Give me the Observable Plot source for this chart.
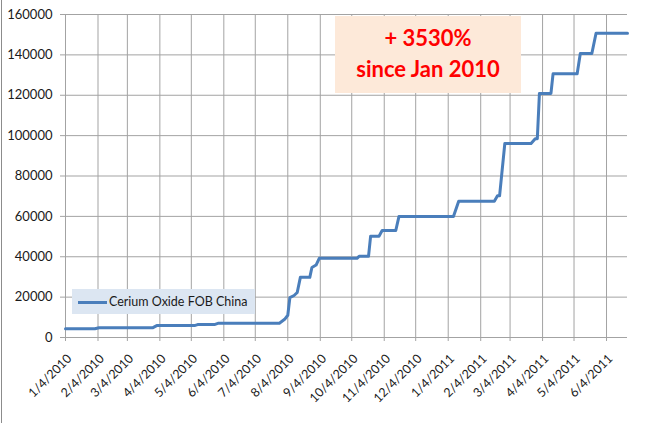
<!DOCTYPE html>
<html>
<head>
<meta charset="utf-8">
<script src="https://cdn.jsdelivr.net/npm/d3@7"></script>
<script src="https://cdn.jsdelivr.net/npm/@observablehq/plot@0.6"></script>
<style>
  html, body { margin: 0; padding: 0; background: #fff; }
  #wrap { position: relative; width: 664px; height: 423px; overflow: hidden; font-family: Lato, "Open Sans", sans-serif; }
  #leftline { position: absolute; left: 1px; top: 0; width: 1px; height: 423px; background: #8c8c8c; }
  #note { position: absolute; left: 335px; top: 16px; width: 186px; height: 77px; background: #fde9d9;
          color: #ff0000; font-weight: bold; font-size: 22px; line-height: 31px; text-align: center;
          box-sizing: border-box; padding-top: 6px; }
  #legend { position: absolute; left: 72px; top: 289px; width: 183px; height: 25px; background: #dce6f2;
            box-sizing: border-box; }
  #legend .sw { position: absolute; left: 6px; top: 12px; width: 29px; height: 3px; background: #4a7ebb; }
  #legend .lb { position: absolute; left: 37px; top: 0; line-height: 25px; font-size: 12.5px; color: #1a1a1a; white-space: nowrap; }
</style>
</head>
<body>
<div id="wrap">
  <div id="chart"></div>
  <div id="leftline"></div>
  <div id="note"></div>
  <div id="legend"><div class="sw"></div><div class="lb"></div></div>
</div>
<script>
// ---- data ----
const seriesName = "Cerium Oxide FOB China";
const noteLines = ["+ 3530%", "since Jan 2010"];
const dates = [
  "2010-01-04","2010-02-01","2010-02-05","2010-03-28","2010-04-01","2010-05-07","2010-05-10",
  "2010-05-26","2010-05-30","2010-07-27","2010-08-01","2010-08-04","2010-08-06","2010-08-10",
  "2010-08-13","2010-08-16","2010-08-25","2010-08-27","2010-08-31","2010-09-03","2010-10-09",
  "2010-10-11","2010-10-20","2010-10-22","2010-10-30","2010-11-02","2010-11-15","2010-11-18",
  "2011-01-09","2011-01-14","2011-02-17","2011-02-20","2011-02-22","2011-02-27","2011-03-24",
  "2011-03-28","2011-03-30","2011-04-01","2011-04-12","2011-04-14","2011-05-07","2011-05-10",
  "2011-05-21","2011-05-25","2011-06-24"
];
const values = [
  4300, 4300, 4800, 4800, 5900, 5900, 6400,
  6400, 7100, 7100, 9000, 11000, 19800, 20800,
  22300, 29800, 29800, 34700, 35900, 39200, 39200,
  40200, 40200, 50200, 50200, 53000, 53000, 59900,
  59900, 67500, 67500, 70200, 70200, 96100, 96100,
  98500, 98500, 120900, 120900, 130600, 130600, 140700,
  140700, 150700, 150700
];
const xTickDates = [
  "2010-01-04","2010-02-04","2010-03-04","2010-04-04","2010-05-04","2010-06-04",
  "2010-07-04","2010-08-04","2010-09-04","2010-10-04","2010-11-04","2010-12-04",
  "2011-01-04","2011-02-04","2011-03-04","2011-04-04","2011-05-04","2011-06-04"
];
const yTicks = [0, 20000, 40000, 60000, 80000, 100000, 120000, 140000, 160000];
const xDomain = ["2010-01-04", "2011-06-24"];

// ---- build ----
const data = dates.map((d, i) => ({date: new Date(d), value: values[i]}));
const xTicks = xTickDates.map(d => new Date(d));
const fmt = d3.utcFormat("%-m/%-d/%Y");
const grid = "#a3a3a3";

const chart = Plot.plot({
  width: 664,
  height: 423,
  marginLeft: 65,
  marginRight: 37,
  marginTop: 14,
  marginBottom: 86,
  style: {fontFamily: "Lato, 'Open Sans', sans-serif", fontSize: "13px", color: "#1a1a1a", background: "transparent"},
  x: {type: "utc", domain: xDomain.map(d => new Date(d)), label: null},
  y: {domain: [0, 160000], label: null},
  marks: [
    Plot.ruleY(yTicks, {stroke: grid, strokeWidth: 1, insetLeft: -5}),
    Plot.ruleX(xTicks, {stroke: grid, strokeWidth: 1, insetBottom: -4}),
    Plot.axisY({ticks: yTicks, tickSize: 0, tickPadding: 13, fontSize: 13, label: null, tickFormat: d => String(d)}),
    Plot.axisX({ticks: xTicks, tickSize: 0, tickRotate: -45, tickPadding: 19, dx: 4, label: null,
                textAnchor: "end", lineAnchor: "middle", fontSize: 12.5, tickFormat: fmt}),
    Plot.line(data, {x: "date", y: "value", stroke: "#4a7ebb", strokeWidth: 3, strokeLinejoin: "round", curve: "linear"})
  ]
});
document.getElementById("chart").appendChild(chart);
document.getElementById("note").innerHTML = noteLines.join("<br>");
document.querySelector("#legend .lb").textContent = seriesName;
</script>
</body>
</html>
